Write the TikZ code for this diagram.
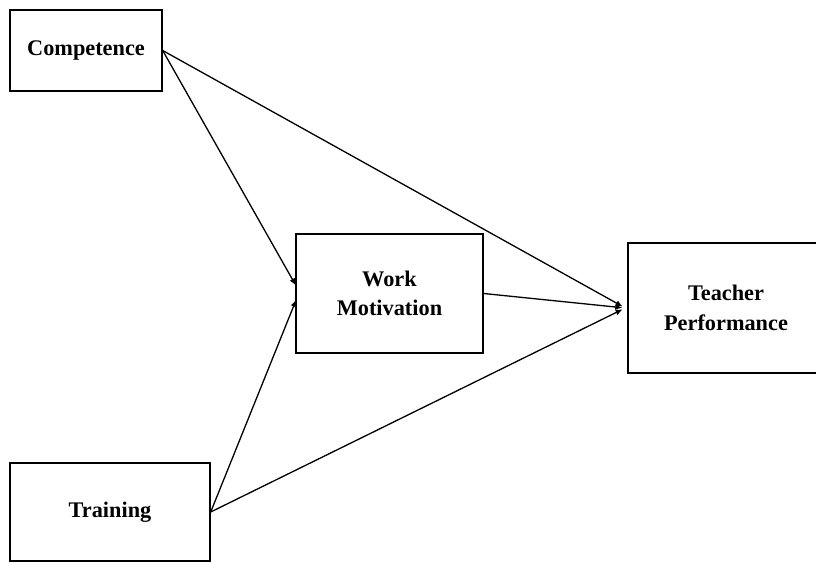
\documentclass[tikz,border=0pt]{standalone}
\usepackage{fontspec}
\setmainfont{Liberation Serif}
\usetikzlibrary{calc,arrows.meta}
\begin{document}
\begin{tikzpicture}[x=1pt,y=-1pt,
  box/.style={draw,line width=1.4pt,rectangle,inner sep=0pt,align=center,
    font=\fontsize{22.3}{29.5}\selectfont\bfseries},
  link/.style={line width=1.3pt,shorten >=3pt,-{Latex[length=7pt,width=6pt]}}]
\useasboundingbox (0,0) rectangle (816,562);
\begin{scope}
\clip (0,0) rectangle (816,562);
\node[box,minimum width=152pt,minimum height=81pt] (comp) at (86,50.5) {Competence};
\node[box,minimum width=187pt,minimum height=119pt] (wm) at (389.5,293.5) {Work\\Motivation};
\node[box,minimum width=196pt,minimum height=130pt] (tp) at (726,308) {Teacher\\Performance};
\node[box,minimum width=200pt,minimum height=98pt] (tr) at (110,512) {Training};
\coordinate (wmA) at ($(wm.west)+(2,-5.5)$);
\coordinate (wmB) at ($(wm.west)+(2,3.5)$);
\coordinate (tpA) at ($(tp.west)+(-2,0)$);
\draw[link] (comp.east) -- (wmA);
\draw[link] (tr.east) -- (wmB);
\draw[link] (comp.east) -- (tpA);
\draw[link] (wm.east) -- (tpA);
\draw[link] (tr.east) -- (tpA);
\end{scope}
\end{tikzpicture}
\end{document}
